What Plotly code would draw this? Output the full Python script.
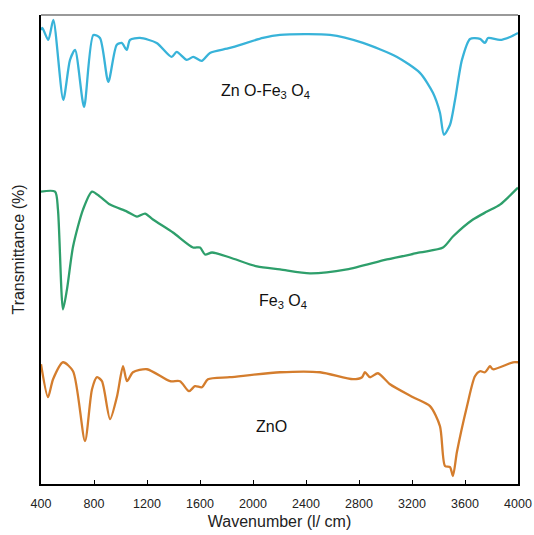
import plotly.graph_objects as go

# ZnO-Fe3O4 (top, cyan)
wn_znofe = [400, 410, 455, 493, 568, 619, 657, 725, 795, 845, 908, 971, 1009, 1047, 1072, 1147,
            1273, 1386, 1424, 1500, 1549, 1613, 1675, 1826, 2075, 2204, 2581, 2830, 3087, 3260,
            3358, 3411, 3441, 3487, 3525, 3577, 3638, 3713, 3751, 3774, 3864, 3940, 4000]
t_znofe = [455, 457, 445, 465, 385, 425, 435, 378, 450, 447, 403, 440, 442, 435, 445, 447,
           442, 428, 433, 425, 428, 424, 432, 437, 447, 450, 450, 442, 428, 412,
           392, 372, 350, 360, 385, 425, 446, 446, 442, 447, 445, 448, 452]

# Fe3O4 (middle, green)
wn_fe = [400, 506, 528, 566, 596, 642, 717, 785, 845, 921, 1049, 1125, 1185, 1245, 1396, 1547,
         1600, 1638, 1691, 1826, 2030, 2204, 2430, 2709, 3011, 3260, 3434, 3509, 3660, 3766,
         3864, 4000]
t_fe = [293, 293, 275, 175, 195, 238, 275, 293, 288, 280, 273, 268, 271, 265, 252, 237,
        237, 230, 232, 227, 218, 215, 211, 215, 225, 232, 237, 248, 265, 273,
        280, 297]

# ZnO (bottom, orange)
wn_zno = [400, 453, 491, 566, 642, 732, 785, 823, 860, 921, 974, 1019, 1049, 1094, 1200, 1374,
          1449, 1517, 1562, 1615, 1660, 1826, 2204, 2506, 2755, 2823, 2845, 2883, 2943, 3034,
          3208, 3336, 3411, 3449, 3487, 3509, 3539, 3615, 3675, 3713, 3751, 3789, 3811, 3962, 4000]
t_zno = [120, 87, 105, 122, 113, 43, 95, 107, 103, 65, 88, 118, 103, 112, 115, 103,
         103, 93, 98, 97, 105, 107, 112, 112, 105, 107, 112, 107, 111, 100,
         87, 78, 58, 18, 17, 8, 32, 78, 108, 113, 112, 118, 115, 122, 122]

tick_vals = [400, 800, 1200, 1600, 2000, 2400, 2800, 3200, 3600, 4000]
labels = ["Zn O-Fe<sub>3</sub> O<sub>4</sub>", "Fe<sub>3</sub> O<sub>4</sub>", "ZnO"]
label_x = [2091, 2226, 2143]
label_y = [393, 183, 58]

fig = go.Figure()
for xs, ys, col in [(wn_znofe, t_znofe, "#38b3d9"), (wn_fe, t_fe, "#2e9f6b"), (wn_zno, t_zno, "#d47d2d")]:
    fig.add_trace(go.Scatter(x=xs, y=ys, mode="lines",
                             line=dict(color=col, width=2.3, shape="spline", smoothing=0.7),
                             showlegend=False, hoverinfo="skip"))

for txt, lx, ly in zip(labels, label_x, label_y):
    fig.add_annotation(x=lx, y=ly, text=txt, showarrow=False,
                       font=dict(family="Liberation Sans, Arial", size=16, color="#111"))

fig.add_shape(type="line", xref="paper", yref="paper", x0=0, x1=1, y0=1, y1=1,
              line=dict(color="#777", width=1.5))

fig.update_layout(
    width=534, height=535,
    margin=dict(l=41, r=16, t=15, b=51),
    paper_bgcolor="white", plot_bgcolor="white",
    font=dict(family="Liberation Sans, Arial", color="#222"),
    xaxis=dict(range=[400, 4000], tickvals=tick_vals, ticks="inside", ticklen=4,
               tickcolor="black", showline=True, linecolor="black", linewidth=2,
               showgrid=False, zeroline=False, tickfont=dict(size=12.5), automargin=False,
               ticklabelstandoff=7,
               title=dict(text="Wavenumber (l/ cm)", font=dict(size=16), standoff=6)),
    yaxis=dict(range=[0, 470], showticklabels=False, ticks="", showline=True,
               linecolor="black", linewidth=2, mirror=True, showgrid=False, zeroline=False,
               automargin=False,
               title=dict(text="Transmittance (%)", font=dict(size=16), standoff=10)),
)

fig.write_html("out.html", config={"displayModeBar": False},
               post_script="document.body.style.margin='0';document.body.style.overflow='hidden';")
